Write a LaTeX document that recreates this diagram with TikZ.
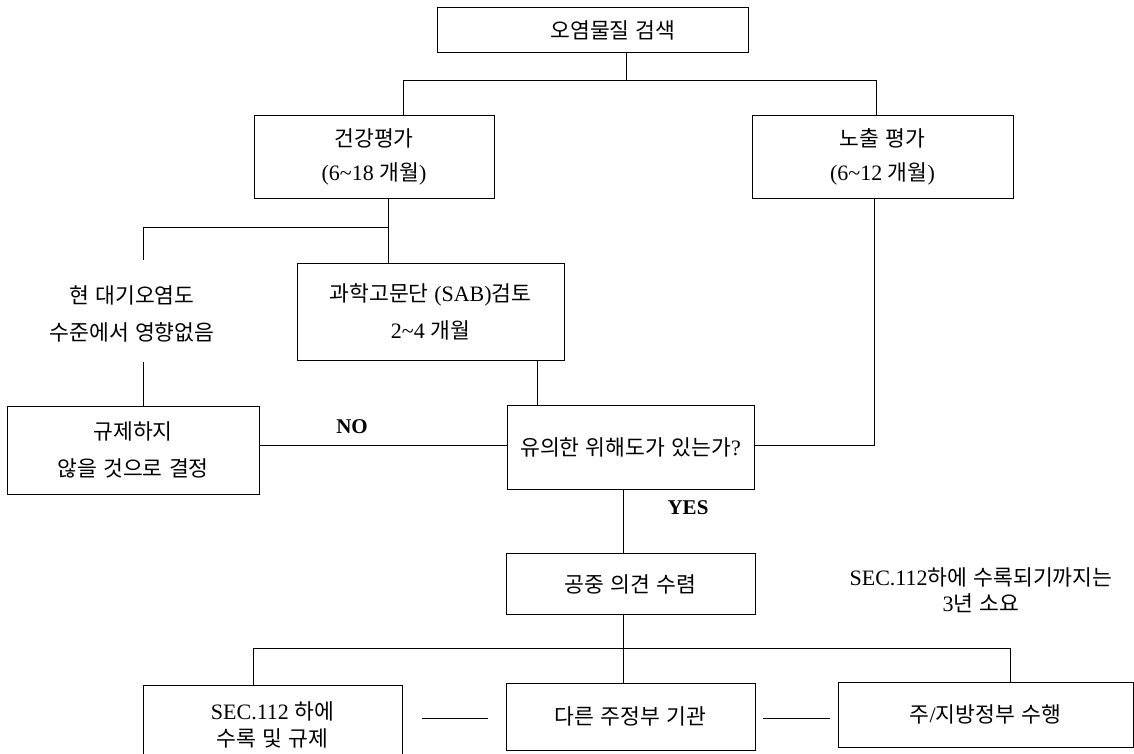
\documentclass[tikz,border=0pt]{standalone}
\usepackage{fontspec}
\setmainfont{Liberation Serif}
\newfontfamily\kr[WordSpace=1.3,Scale=0.98]{Noto Sans CJK KR}
\newcommand\tld{\char126\relax}
\begin{document}
\begin{tikzpicture}[x=1pt,y=-1pt,
  every node/.style={font=\fontsize{22}{37}\selectfont, align=center, inner sep=0pt},
  box/.style={draw, line width=0.9pt},
  conn/.style={line width=0.9pt},
  mid/.style={font=\fontsize{22}{34}\selectfont},
  tight/.style={font=\fontsize{22}{26.5}\selectfont},
  lbl/.style={font=\bfseries\fontsize{21}{24}\selectfont}]
\useasboundingbox[fill=white] (0,0) rectangle (1134,753);
% boxes
\node[box, minimum width=311, minimum height=45] (top) at (593,30) {\hspace*{40pt}{\kr 오염물질 검색}};
\node[box, mid, minimum width=240, minimum height=83] (health) at (374,157) {{\kr 건강평가}\\(6\tld18 {\kr 개월})};
\node[box, mid, minimum width=261, minimum height=83] (exp) at (882.5,157) {{\kr 노출 평가}\\(6\tld12 {\kr 개월})};
\node (noeff) at (132,314) {{\kr 현 대기오염도}\\{\kr 수준에서 영향없음}};
\node[box, minimum width=267, minimum height=97] (sab) at (430.5,311.5) {{\kr 과학고문단} (SAB){\kr 검토}\\2\tld4 {\kr 개월}};
\node[box, minimum width=252, minimum height=88] (noreg) at (133,450) {{\kr 규제하지}\\{\kr 않을 것으로 결정}};
\node[box, minimum width=247, minimum height=84] (dec) at (630.5,447) {{\kr 유의한 위해도가 있는가}?};
\node[lbl] (no) at (352,427) {NO};
\node[lbl] (yes) at (688,508) {YES};
\node[box, minimum width=249, minimum height=61] (public) at (630.5,584) {{\kr 공중 의견 수렴}};
\node[tight] (note) at (981,590) {SEC.112{\kr 하에 수록되기까지는}\\3{\kr 년 소요}};
\node[box, tight, minimum width=259, minimum height=80] (b1) at (272.5,725) {SEC.112 {\kr 하에}\\{\kr 수록 및 규제}};
\node[box, minimum width=249, minimum height=67] (b2) at (630.5,716.5) {{\kr 다른 주정부 기관}};
\node[box, minimum width=295, minimum height=65] (b3) at (985.5,714.5) {{\kr 주}/{\kr 지방정부 수행}};
% junction coordinates
\coordinate (j1) at (626,80);
\coordinate (hL) at (403,80);
\coordinate (hR) at (876,80);
\coordinate (j2) at (388,227);
\coordinate (j2L) at (143,227);
\coordinate (e1) at (143,260);
\coordinate (e2) at (143,362);
\coordinate (nY) at (0,445);
\coordinate (s1) at (537,0);
\coordinate (r1) at (874,445);
\coordinate (yx) at (623,0);
\coordinate (j3) at (623,648);
\coordinate (j3L) at (253,648);
\coordinate (j3R) at (1010,648);
\coordinate (dY) at (0,718);
% connectors
\draw[conn] (top.south -| j1) -- (j1);
\draw[conn] (health.north -| hL) -- (hL) -- (hR) -- (exp.north -| hR);
\draw[conn] (health.south -| j2) -- (sab.north -| j2);
\draw[conn] (j2) -- (j2L) -- (e1);
\draw[conn] (e2) -- (noreg.north -| e2);
\draw[conn] (noreg.east |- nY) -- (dec.west |- nY);
\draw[conn] (sab.south -| s1) -- (dec.north -| s1);
\draw[conn] (dec.east |- r1) -- (r1) -- (exp.south -| r1);
\draw[conn] (dec.south -| yx) -- (public.north -| yx);
\draw[conn] (public.south -| j3) -- (b2.north -| j3);
\draw[conn] (b1.north -| j3L) -- (j3L) -- (j3R) -- (b3.north -| j3R);
\draw[conn, shorten <=20pt, shorten >=18pt] (b1.east |- dY) -- (b2.west |- dY);
\draw[conn, shorten <=8pt, shorten >=8pt] (b2.east |- dY) -- (b3.west |- dY);
\end{tikzpicture}
\end{document}
